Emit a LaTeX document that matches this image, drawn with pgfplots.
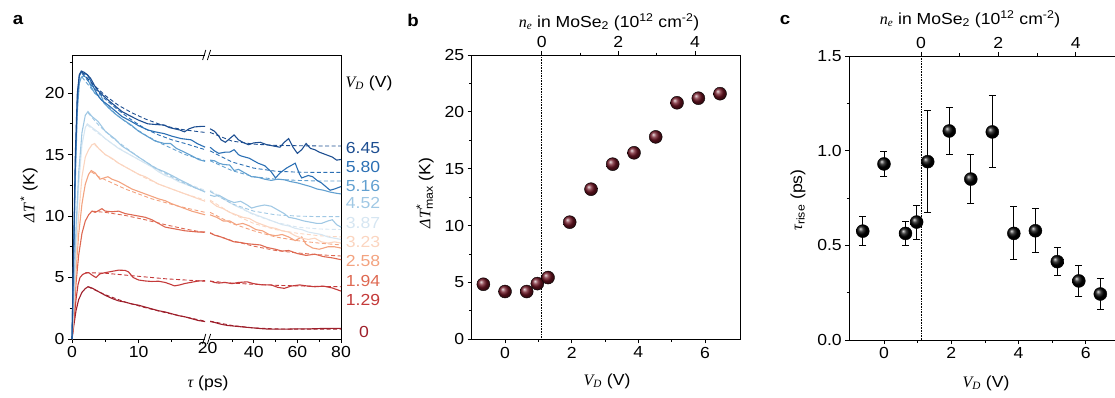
\documentclass[border=0pt]{standalone}
\usepackage{pgfplots}
\pgfplotsset{compat=1.18}
\usepackage{fontspec}
\setmainfont{Liberation Sans}[FakeStretch=1.1]
\newfontfamily\vi{Liberation Serif Italic}
\definecolor{c0}{RGB}{158,31,43}
\definecolor{c1}{RGB}{196,58,58}
\definecolor{c2}{RGB}{222,105,82}
\definecolor{c3}{RGB}{243,163,128}
\definecolor{c4}{RGB}{251,213,192}
\definecolor{c5}{RGB}{214,230,242}
\definecolor{c6}{RGB}{160,200,228}
\definecolor{c7}{RGB}{98,160,208}
\definecolor{c8}{RGB}{44,112,180}
\definecolor{c9}{RGB}{29,78,145}
\definecolor{bmar}{RGB}{110,20,35}
\def\rx{20.75+(\thisrowno{0}-20)/3.05}
\newcommand{\fs}{\fontsize{16}{17}\selectfont}
\newcommand{\VD}{{\vi V}\textsubscript{\vi D}}
\begin{document}
\begin{tikzpicture}[x=1pt,y=1pt]
\path[use as bounding box] (0pt,0pt) rectangle (1115pt,397pt);
\pgfplotsset{every axis/.append style={scale only axis, anchor=south west,
  axis line style={line width=0.8pt}, tick style={line width=0.8pt, black},
  major tick length=4pt, minor tick length=2.5pt, tick align=outside,
  tick label style={font=\fs}, /pgf/number format/assume math mode=true, clip=false},
  sol/.style={line width=1.1pt},
  dsh/.style={line width=0.9pt, dash pattern=on 4pt off 2.5pt}}
% ---------------- panel a ----------------
\begin{axis}[at={(72pt,58pt)}, width=269pt, height=284pt, xmin=0, xmax=40.42, ymin=0, ymax=23.1,
  tick pos=left, xtick={0,10,27.31,33.87,40.42}, xticklabels={0,10,40,60,80},
  extra x ticks={20.375}, extra x tick labels={20}, extra x tick style={major tick length=0pt},
  minor xtick={5,15,24.03,30.59,37.14}, ytick={0,5,10,15,20}, minor ytick={2.5,7.5,12.5,17.5,22.5}]
% V=0
\addplot[c0,sol] table {0 0
0.3 1.2
0.6 2.3
1 3.2
1.5 3.8
2 4.1
2.4 4.25
3 4.15
4 3.85
5 3.55
6 3.3
7 3.1
8 3.0
9 2.85
10 2.75
11 2.6
12 2.45
13 2.3
14 2.2
15 2.05
16 1.9
17 1.8
18 1.65
19 1.5
20 1.42
};
\addplot[c0,dsh] table {2.4 4.25
5 3.6
8 3.0
11 2.55
14 2.15
17 1.8
20 1.45
};
\addplot[c0,sol] table[x expr=\rx, y index=1] {20 1.42
22 1.35
25 1.2
28 1.1
31 1.05
35 0.98
40 0.9
45 0.82
50 0.8
55 0.8
60 0.83
65 0.82
70 0.85
75 0.86
80 0.87
};
\addplot[c0,dsh] table[x expr=\rx, y index=1] {20 1.45
30 1.1
40 0.9
50 0.82
60 0.8
70 0.8
80 0.8
};
% V=1.29
\addplot[c1,sol] table {0 0
0.3 1.6
0.6 3.2
0.9 4.4
1.2 5.0
1.6 5.25
2 5.35
2.5 5.4
3 5.2
3.6 5.0
4.2 5.3
5 5.4
6 5.5
7 5.6
8 5.58
8.5 5.45
9.2 5.0
10 4.8
11 4.72
12 4.68
13 4.7
14 4.6
14.8 4.45
15.4 4.32
16.2 4.4
17 4.52
18 4.62
19 4.72
20 4.74
};
\addplot[c1,dsh] table {2 5.4
5 5.35
8 5.2
11 5.05
14 4.9
17 4.8
20 4.7
};
\addplot[c1,sol] table[x expr=\rx, y index=1] {20 4.72
22 4.6
24 4.55
27 4.6
30 4.5
33 4.6
37 4.65
40 4.5
44 4.4
48 4.4
51 4.2
54 4.12
57 4.3
61 4.4
65 4.3
68 4.25
72 4.3
76 4.15
80 3.9
};
\addplot[c1,dsh] table[x expr=\rx, y index=1] {20 4.7
30 4.55
40 4.45
50 4.37
60 4.32
70 4.28
80 4.25
};
% V=1.94
\addplot[c2,sol] table {0 0
0.3 2
0.6 4.5
1 6.8
1.5 8.6
2 9.6
2.5 10.1
3 10.4
3.5 10.3
4 10.45
4.5 10.6
5 10.4
6 10.35
7 10.4
8 10.2
9 10.1
10 10.0
11 9.9
12 9.7
13 9.4
14 9.1
15 9.0
16 8.9
17 8.8
18 8.75
19 8.7
20 8.7
};
\addplot[c2,dsh] table {3 10.4
5 10.3
8 10.05
11 9.7
14 9.3
17 8.95
20 8.65
};
\addplot[c2,sol] table[x expr=\rx, y index=1] {20 8.65
22 8.45
25 8.3
28 8.1
31 7.9
34 7.85
37 7.75
40 7.7
43 7.65
46 7.45
50 7.3
53 7.15
56 7.2
60 6.95
64 6.8
68 6.9
72 6.7
76 6.6
80 6.45
};
\addplot[c2,dsh] table[x expr=\rx, y index=1] {20 8.6
30 8.0
40 7.55
50 7.2
60 7.0
70 6.85
80 6.75
};
% V=2.58
\addplot[c3,sol] table {0 0
0.3 2.5
0.6 5.5
1 8.5
1.5 11
2 12.6
2.5 13.4
2.9 13.7
3.5 13.5
4.2 13.0
4.8 13.1
5.4 13.2
6 13.0
7 12.8
8 12.5
9 12.2
10 12.0
11 11.8
12 11.6
13 11.4
14 11.25
15 11.0
16 10.8
17 10.6
18 10.4
19 10.25
20 10.1
};
\addplot[c3,dsh] table {2.9 13.6
4 13.2
6 12.7
8 12.2
10 11.8
12 11.4
14 11.1
16 10.8
18 10.55
20 10.3
};
\addplot[c3,sol] table[x expr=\rx, y index=1] {20 10.1
23 9.9
26 9.6
29 9.6
32 9.3
35 9.4
38 9.2
41 8.9
44 8.8
47 8.5
50 8.4
53 8.5
56 8.3
59 8.0
62 8.3
64 7.7
67 7.4
70 7.3
74 7.5
77 7.5
80 7.4
};
\addplot[c3,dsh] table[x expr=\rx, y index=1] {20 10.3
30 9.4
40 8.8
50 8.3
60 8.0
70 7.8
80 7.65
};
% V=3.23
\addplot[c4,sol] table {0 0
0.3 3
0.6 6.5
1 10
1.5 13.2
2 14.8
2.5 15.4
3 15.8
3.4 15.9
4 15.5
5 15.0
6 14.7
7 14.3
8 14.0
9 13.7
10 13.4
11 13.2
12 12.9
13 12.6
14 12.4
15 12.2
16 12.0
17 11.8
18 11.6
19 11.4
20 11.2
};
\addplot[c4,dsh] table {3.4 15.8
5 15.0
7 14.3
9 13.7
11 13.1
13 12.6
15 12.2
17 11.8
20 11.3
};
\addplot[c4,sol] table[x expr=\rx, y index=1] {20 11.2
23 10.8
26 10.6
29 10.3
32 10.1
35 9.9
38 9.8
41 9.5
44 9.3
47 9.1
50 9.0
53 8.8
56 8.7
59 8.4
62 8.2
65 8.1
68 8.2
71 7.9
74 7.8
77 7.9
80 7.8
};
\addplot[c4,dsh] table[x expr=\rx, y index=1] {20 11.3
30 10.2
40 9.4
50 8.9
60 8.6
70 8.4
80 8.3
};
% V=3.87
\addplot[c5,sol] table {0 0
0.3 3.5
0.6 8
1 12.5
1.5 15.8
2 17.2
2.3 17.5
3 17.2
4 16.8
5 16.3
6 15.9
7 15.5
8 15.2
9 14.9
10 14.6
11 14.3
12 14.0
13 13.6
14 13.3
15 13.1
16 12.8
17 12.6
18 12.4
19 12.2
20 12.0
};
\addplot[c5,dsh] table {2.3 17.4
4 16.7
6 15.9
8 15.2
10 14.6
12 14.0
14 13.4
16 12.9
18 12.5
20 12.1
};
\addplot[c5,sol] table[x expr=\rx, y index=1] {20 12.0
23 11.7
26 11.4
29 11.1
32 10.8
35 10.6
38 10.3
41 10.1
44 9.9
47 9.7
50 9.5
53 9.3
56 9.2
59 9.0
62 8.9
65 8.7
68 8.6
71 8.5
74 8.3
77 8.2
80 8.1
};
\addplot[c5,dsh] table[x expr=\rx, y index=1] {20 12.1
30 11.0
40 10.1
50 9.5
60 9.1
70 8.95
80 8.9
};
% V=4.52
\addplot[c6,sol] table {0 0
0.3 4
0.6 9
1 13.5
1.5 16.8
2 18.2
2.4 18.5
3 18.1
3.9 17.7
5 16.9
6.4 16.3
7.5 15.7
8.9 15.2
10 14.8
11.4 14.3
12.5 13.9
13.9 13.6
15 13.3
16.4 12.9
17.5 12.6
18.5 12.3
19.6 12.05
20 11.95
};
\addplot[c6,dsh] table {2.4 18.4
4 17.4
6 16.4
8 15.6
10 14.8
12 14.1
14 13.5
16 12.9
18 12.4
20 12.0
};
\addplot[c6,sol] table[x expr=\rx, y index=1] {20 11.7
22 11.6
24 11.7
26 11.5
28 11.3
31 11.1
34 11.2
37 10.9
39 10.65
42 10.8
45 10.9
48 10.8
51 10.5
54 10.2
56 9.9
59 9.8
63 9.6
66 9.5
69 9.4
71 9.4
74 9.6
76 9.7
78 9.3
80 9.1
};
\addplot[c6,dsh] table[x expr=\rx, y index=1] {20 12.0
30 11.0
40 10.4
50 10.1
60 10.0
70 9.95
80 9.95
};
% V=5.16
\addplot[c7,sol] table {0 0
0.2 5
0.5 13
0.8 18.5
1.1 20.8
1.4 21.3
1.8 21.4
2.3 21.2
2.8 20.6
3.4 20.0
3.9 19.8
4.3 19.9
4.8 19.2
5.5 18.8
6.4 18.35
7.5 17.9
8.9 17.4
10 16.9
11.4 16.45
12.5 16.1
13.9 15.9
14.8 15.9
15.7 15.5
16.9 15.2
18 14.9
19 14.6
20 14.45
};
\addplot[c7,dsh] table {1.5 21.3
3 20.3
5 19.1
7 18.1
9 17.3
11 16.6
13 16.0
15 15.5
17 15.0
20 14.5
};
\addplot[c7,sol] table[x expr=\rx, y index=1] {20 14.55
22 14.5
24 14.3
26 14.2
29 14.15
31 13.7
33 13.8
35 13.6
37 13.4
39 13.2
42 13.15
45 13.0
48 12.9
51 13.0
54 12.95
57 12.8
60 12.7
63 12.55
66 12.4
69 12.2
72 12.1
75 11.95
78 11.85
80 11.8
};
\addplot[c7,dsh] table[x expr=\rx, y index=1] {20 14.5
30 13.7
40 13.2
50 13.0
60 12.9
70 12.85
80 12.85
};
% V=5.80
\addplot[c8,sol] table {0 0
0.2 5.5
0.5 14
0.8 19.5
1.1 21.4
1.4 21.7
1.8 21.6
2.3 21.5
2.8 21.0
3.4 20.3
3.9 19.8
4.5 19.4
5.5 19.0
6.4 18.6
7.5 18.1
8.9 17.7
10 17.35
11.4 17.0
12.5 16.85
13.9 16.7
15 16.5
16.4 16.3
17.9 16.2
18.8 15.9
19.6 15.7
20 15.6
};
\addplot[c8,dsh] table {1.5 21.6
3 20.6
5 19.5
7 18.6
9 17.8
11 17.1
13 16.6
15 16.2
17 15.9
20 15.4
};
\addplot[c8,sol] table[x expr=\rx, y index=1] {20 15.6
22 15.3
24 15.1
27 15.2
29 15.2
31 15.4
33 15.0
34 14.9
36 14.8
38 14.7
40 14.5
42 14.3
45 14.1
48 13.6
50 13.1
52 13.5
55 13.9
57 14.1
59 14.3
61 13.4
62 13.1
65 13.3
67 13.2
69 12.9
71 12.7
73 12.4
75 12.1
77 12.2
80 12.4
};
\addplot[c8,dsh] table[x expr=\rx, y index=1] {20 15.3
30 14.4
40 13.9
50 13.65
60 13.57
70 13.55
80 13.55
};
% V=6.45
\addplot[c9,sol] table {0 0
0.2 6
0.5 15
0.8 20
1.1 21.5
1.4 21.8
1.8 21.7
2.3 21.5
2.8 21.2
3.4 20.6
3.9 20.2
4.5 19.9
5.5 19.4
6.4 19.0
7.5 18.5
8.9 18.1
10 17.8
11.4 17.5
12.5 17.45
13.9 17.4
14.6 17.2
15.4 17.1
16.2 17.0
16.9 16.85
17.6 17.1
18.4 17.25
19.6 17.3
20 17.3
};
\addplot[c9,dsh] table {1.5 21.7
3 20.8
5 19.8
7 19.0
9 18.4
11 17.9
13 17.5
15 17.2
17 17.0
20 16.8
};
\addplot[c9,sol] table[x expr=\rx, y index=1] {20 17.1
22 16.9
24 16.5
25 16.2
27 16.0
29 16.3
31 16.6
33 16.2
35 16.0
37.6 15.8
40 15.95
43 16.0
46 15.8
49 15.7
52 15.6
54 16.0
56 16.3
58 15.6
60 15.1
62 15.4
64 15.9
66 15.5
68 15.4
70 15.2
73 15.0
76 14.8
78 14.55
80 14.6
};
\addplot[c9,dsh] table[x expr=\rx, y index=1] {20 16.8
30 16.1
40 15.85
50 15.75
60 15.72
70 15.7
80 15.7
};
\end{axis}
% axis break marks
\foreach \yy in {58,342}{
  \fill[white] (205.4pt,\yy pt-1.5pt) rectangle (209.8pt,\yy pt+1.5pt);
  \draw[line width=0.8pt] (202.6pt,\yy pt-5pt) -- (205.8pt,\yy pt+5pt);
  \draw[line width=0.8pt] (207.4pt,\yy pt-5pt) -- (210.6pt,\yy pt+5pt);
}
% V_D labels
\node[font=\fs] at (369pt,314pt) {\VD{} (V)};
\node[font=\fs,text=c9] at (363pt,248.7pt) {6.45};
\node[font=\fs,text=c8] at (363pt,230.3pt) {5.80};
\node[font=\fs,text=c7] at (363pt,211.3pt) {5.16};
\node[font=\fs,text=c6] at (363pt,193.7pt) {4.52};
\node[font=\fs,text=c5] at (363pt,174.3pt) {3.87};
\node[font=\fs,text=c4] at (363pt,155.3pt) {3.23};
\node[font=\fs,text=c3] at (363pt,136.3pt) {2.58};
\node[font=\fs,text=c2] at (363pt,116.3pt) {1.94};
\node[font=\fs,text=c1] at (363pt,97pt) {1.29};
\node[font=\fs,text=c0] at (364pt,65.3pt) {0};
\node[font=\fs] at (208pt,14pt) {{\vi τ} (ps)};
\node[font=\fs,rotate=90] at (29pt,202pt) {{\vi ΔT}\,\textsuperscript{*} (K)};
% ---------------- panel b ----------------
\begin{axis}[at={(471.7pt,57.7pt)}, width=268.3pt, height=284.3pt, xmin=-1, xmax=7.05, ymin=0, ymax=25,
  tick pos=left, xtick={0,2,4,6}, minor x tick num=1, ytick={0,5,10,15,20,25}, minor y tick num=1]
\addplot[densely dotted, line width=0.6pt] coordinates {(1.1,0) (1.1,25)};
\addplot[only marks, mark=ball, mark size=6.5pt, mark options={ball color=bmar}] table {
-0.65 4.84
0 4.2
0.65 4.2
0.97 4.9
1.29 5.43
1.94 10.3
2.58 13.2
3.23 15.4
3.87 16.4
4.52 17.8
5.16 20.8
5.80 21.2
6.45 21.6
};
\end{axis}
\begin{axis}[at={(471.7pt,57.7pt)}, width=268.3pt, height=284.3pt, xmin=-1.826, xmax=5.174, ymin=0, ymax=1,
  axis x line*=top, hide y axis, xtick={0,2,4}, minor x tick num=1]
\addplot[draw=none] coordinates {(0,0)};
\end{axis}
\node[font=\fs] at (607pt,16pt) {\VD{} (V)};
\node[font=\fs] at (609pt,375pt) {{\vi n}\textsubscript{\vi e} in MoSe\textsubscript{2} (10\textsuperscript{12} cm\textsuperscript{-2})};
\node[font=\fs,rotate=90] at (425pt,204pt) {{\vi ΔT}\rlap{\textsuperscript{*}}\textsubscript{max} (K)};
% ---------------- panel c ----------------
\begin{axis}[at={(849.3pt,57pt)}, width=265.7pt, height=284pt, xmin=-1.03, xmax=6.866, ymin=0, ymax=1.5,
  axis x line*=bottom, axis y line*=left, xtick={0,2,4,6}, minor x tick num=1,
  ytick={0,0.5,1,1.5}, minor y tick num=1,
  yticklabel style={/pgf/number format/.cd, fixed, fixed zerofill, precision=1}]
\addplot[densely dotted, line width=0.6pt] coordinates {(1.1,0) (1.1,1.5)};
\addplot[only marks, mark=ball, mark size=6.5pt, mark options={ball color=black},
  error bars/.cd, y dir=both, y explicit,
  error bar style={line width=0.9pt, black},
  error mark options={line width=0.9pt, black, mark size=3.5pt, rotate=90}]
  table[x index=0, y index=1, y error index=2] {
-0.63 0.575 0.077
0 0.93 0.068
0.64 0.563 0.065
0.97 0.623 0.09
1.30 0.942 0.27
1.94 1.104 0.126
2.58 0.85 0.128
3.22 1.099 0.19
3.86 0.563 0.14
4.50 0.577 0.117
5.15 0.414 0.073
5.79 0.312 0.083
6.43 0.243 0.082
};
\end{axis}
\begin{axis}[at={(849.3pt,57pt)}, width=265.7pt, height=284pt, xmin=-1.852, xmax=5.014, ymin=0, ymax=1,
  axis x line*=top, hide y axis, xtick={0,2,4}, minor x tick num=1]
\addplot[draw=none] coordinates {(0,0)};
\end{axis}
\node[font=\fs] at (986pt,14pt) {\VD{} (V)};
\node[font=\fs] at (970pt,378pt) {{\vi n}\textsubscript{\vi e} in MoSe\textsubscript{2} (10\textsuperscript{12} cm\textsuperscript{-2})};
\node[font=\fs,rotate=90] at (798pt,197pt) {{\vi τ}\textsubscript{rise} (ps)};
% panel letters
\node[font=\fontsize{17}{18}\selectfont\bfseries] at (18pt,377pt) {a};
\node[font=\fontsize{17}{18}\selectfont\bfseries] at (413pt,377pt) {b};
\node[font=\fontsize{17}{18}\selectfont\bfseries] at (785pt,377pt) {c};
\end{tikzpicture}
\end{document}
